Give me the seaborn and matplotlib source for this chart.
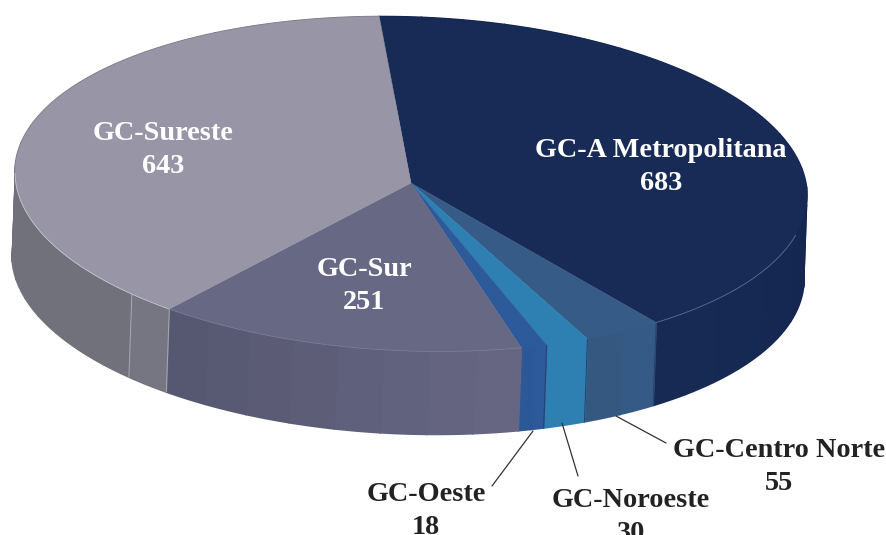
import numpy as np
import matplotlib
matplotlib.use("Agg")
import matplotlib.pyplot as plt
import seaborn as sns

# ---- data ----
regions = ["GC-A Metropolitana", "GC-Centro Norte", "GC-Noroeste", "GC-Oeste", "GC-Sur", "GC-Sureste"]
values = [683, 55, 30, 18, 251, 643]
top_colors = ["#182b56", "#365b87", "#2e80b3", "#2d5a9a", "#666884", "#9795a6"]
side_start = ["#0f1f4d", "#355a85", "#2e80b3", "#2d5a9a", "#666683", "#71717c"]
side_end = ["#172a53", "#345880", "#2e7fb2", "#2c5897", "#565770", "#71717c"]
text_white = [True, False, False, False, True, True]
label_pos = [(661, 167), (779, 467), (631, 517), (426, 511), (364, 286), (163, 150)]
leader_a = [None, (616, 416), (562, 423), (533, 431), None, None]
leader_b = [None, (666, 443), (578, 476), (492, 486), None, None]

# ---- projection of the tilted pie ----
CX, CY, RX, RY, SHEAR = 411, 184, 396, 167, 0.03
DX, DY = -3, 83
START = 94.6


def rim(t_deg):
    t = np.radians(t_deg)
    return CX + RX * np.cos(t), CY - RY * np.sin(t) + SHEAR * RX * np.cos(t)


sns.set_theme(style="white")
plt.rcParams["font.family"] = ["Liberation Serif", "DejaVu Serif"]
fig = plt.figure(figsize=(8.87, 5.35), dpi=100)
ax = fig.add_axes([0, 0, 1, 1])
ax.set_xlim(0, 887)
ax.set_ylim(535, 0)
ax.axis("off")

spans = np.array(values) / sum(values) * 360
ends = START - np.cumsum(spans)
starts = ends + spans

# side walls
for i in range(len(values)):
    n_fac = max(2, int(spans[i] / 6))
    shades = sns.blend_palette([side_start[i], side_end[i]], n_fac)
    edges = np.linspace(starts[i], ends[i], n_fac + 1)
    for j in range(n_fac):
        tt = np.linspace(edges[j], edges[j + 1], 12)
        x, y = rim(tt)
        ax.fill(np.r_[x, x[::-1] + DX], np.r_[y, y[::-1] + DY], color=shades[j], lw=1.2, ec=shades[j], zorder=2)

# lighter facet at the start of the Sureste wall
x, y = rim(np.linspace(ends[4], ends[4] - 7.2, 8))
ax.fill(np.r_[x, x[::-1] + DX], np.r_[y, y[::-1] + DY], color="#757681", lw=0, zorder=2.1)
for t in (ends[4], ends[4] - 7.2):
    px, py = rim(t)
    ax.plot([px, px + DX], [py, py + DY], color="#a9a9b2", lw=0.7, zorder=2.2)

# thin dark seams between the small slices
for t in ends[:3]:
    px, py = rim(t)
    ax.plot([px, px + DX], [py, py + DY], color="#28406e", lw=0.7, zorder=2.2)

# top faces
for i in range(len(values)):
    x, y = rim(np.linspace(starts[i], ends[i], 200))
    ax.fill(np.r_[CX, x], np.r_[CY - 1, y], color=top_colors[i], lw=0.3, ec=top_colors[i], zorder=3)

# faint highlight on the rim
x, y = rim(np.linspace(ends[0] + 38, ends[0], 60))
ax.plot(x, y, color="#5f6f92", lw=0.6, zorder=3.1)
x, y = rim(np.linspace(starts[5] - 52, ends[4], 80))
ax.plot(x, y, color="#c8c7d0", lw=0.6, zorder=3.1)
x, y = rim(np.linspace(ends[4], ends[3], 80))
ax.plot(x, y, color="#7f8199", lw=0.5, zorder=3.1)

# labels and leader lines
for i, name in enumerate(regions):
    ax.text(*label_pos[i], f"{name}\n{values[i]}", ha="center", va="center", fontsize=20.3,
            fontweight="bold", linespacing=1.37, color="white" if text_white[i] else "#222222", zorder=5)
    if leader_a[i] is not None:
        ax.plot([leader_a[i][0], leader_b[i][0]], [leader_a[i][1], leader_b[i][1]],
                color="#333333", lw=0.9, zorder=4)

fig.savefig("out.png", dpi=100, facecolor="white")
